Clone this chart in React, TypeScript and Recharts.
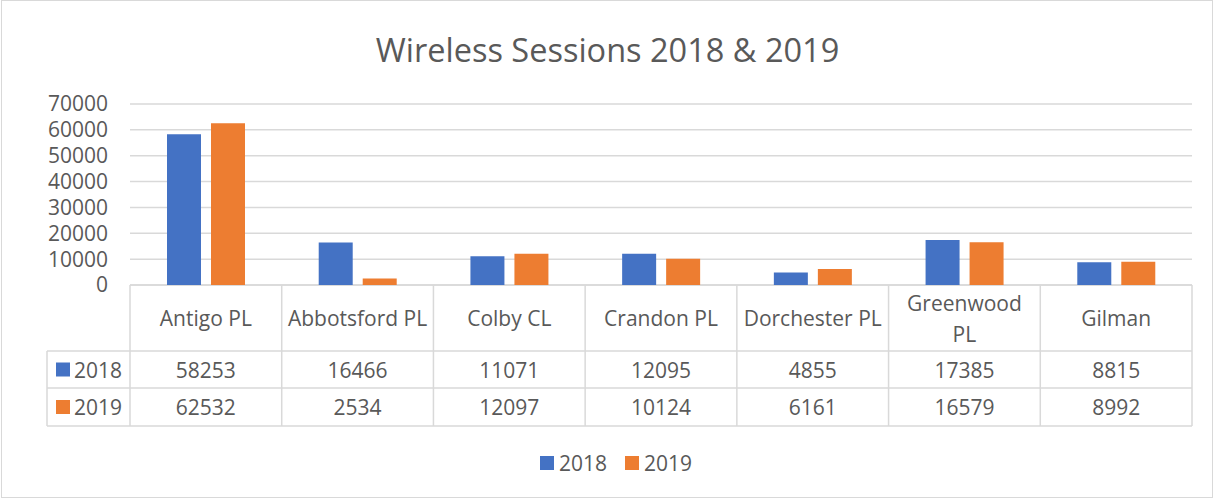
import React from 'react';
import { BarChart, Bar, XAxis, YAxis, CartesianGrid, Customized } from 'recharts';

const categories = ['Antigo PL', 'Abbotsford PL', 'Colby CL', 'Crandon PL', 'Dorchester PL', 'Greenwood PL', 'Gilman'];
const sessions2018 = [58253, 16466, 11071, 12095, 4855, 17385, 8815];
const sessions2019 = [62532, 2534, 12097, 10124, 6161, 16579, 8992];
const yTicks = [0, 10000, 20000, 30000, 40000, 50000, 60000, 70000];
const seriesNames = ['2018', '2019'];
const seriesColors = ['#4472C4', '#ED7D31'];

const data = categories.map((name, i) => ({ name, s2018: sessions2018[i], s2019: sessions2019[i] }));

const W = 1215;
const H = 500;
const PLOT_LEFT = 130;
const PLOT_RIGHT = 1192;
const PLOT_TOP = 104;
const TABLE_TOP = 285;
const ROW1 = 351;
const ROW2 = 388;
const ROW3 = 426;
const TABLE_LEFT = 47;
const BAND = (PLOT_RIGHT - PLOT_LEFT) / categories.length;
const LINE = '#d9d9d9';
const TEXT = '#595959';
const FONT = '"Open Sans", "Noto Sans", sans-serif';
const FS = 21;

let ctx: CanvasRenderingContext2D | null = null;
function measure(t: string): number {
  if (!ctx) {
    const c = document.createElement('canvas');
    ctx = c.getContext('2d');
  }
  if (!ctx) return t.length * 11;
  ctx.font = `${FS}px ${FONT}`;
  return ctx.measureText(t).width;
}

function wrap(t: string): string[] {
  if (measure(t) <= BAND - 11) return [t];
  const idx = t.lastIndexOf(' ');
  if (idx < 0) return [t];
  return [t.slice(0, idx), t.slice(idx + 1)];
}

const TableTick = (props: any) => {
  const { x, payload, index } = props;
  const left = x - BAND / 2;
  const right = x + BAND / 2;
  const lines = wrap(String(payload.value));
  const headerMid = (TABLE_TOP + ROW1) / 2;
  const lh = 31;
  return (
    <g>
      {index === 0 && <line x1={left} x2={left} y1={TABLE_TOP} y2={ROW3} stroke={LINE} strokeWidth={1.5} />}
      <line x1={right} x2={right} y1={TABLE_TOP} y2={ROW3} stroke={LINE} strokeWidth={1.5} />
      {lines.map((l, i) => (
        <text key={i} x={x} y={headerMid + (i - (lines.length - 1) / 2) * lh} textAnchor="middle" dominantBaseline="central" fill={TEXT} fontSize={FS} fontFamily={FONT}>{l}</text>
      ))}
      <text x={x} y={(ROW1 + ROW2) / 2} textAnchor="middle" dominantBaseline="central" fill={TEXT} fontSize={FS} fontFamily={FONT}>{sessions2018[index]}</text>
      <text x={x} y={(ROW2 + ROW3) / 2} textAnchor="middle" dominantBaseline="central" fill={TEXT} fontSize={FS} fontFamily={FONT}>{sessions2019[index]}</text>
    </g>
  );
};

const TableFrame = () => {
  const rows = [ROW1, ROW2];
  return (
    <g>
      <line x1={PLOT_LEFT} x2={PLOT_RIGHT} y1={TABLE_TOP} y2={TABLE_TOP} stroke={LINE} strokeWidth={1.5} />
      <line x1={TABLE_LEFT} x2={PLOT_RIGHT} y1={ROW1} y2={ROW1} stroke={LINE} strokeWidth={1.5} />
      <line x1={TABLE_LEFT} x2={PLOT_RIGHT} y1={ROW2} y2={ROW2} stroke={LINE} strokeWidth={1.5} />
      <line x1={TABLE_LEFT} x2={PLOT_RIGHT} y1={ROW3} y2={ROW3} stroke={LINE} strokeWidth={1.5} />
      <line x1={TABLE_LEFT} x2={TABLE_LEFT} y1={ROW1} y2={ROW3} stroke={LINE} strokeWidth={1.5} />
      {rows.map((r, i) => {
        const next = i === 0 ? ROW2 : ROW3;
        const mid = (r + next) / 2;
        return (
          <g key={i}>
            <rect x={TABLE_LEFT + 9} y={mid - 7} width={14} height={14} fill={seriesColors[i]} />
            <text x={TABLE_LEFT + 27} y={mid} dominantBaseline="central" fill={TEXT} fontSize={FS} fontFamily={FONT}>{seriesNames[i]}</text>
          </g>
        );
      })}
    </g>
  );
};

const LegendBlock = () => {
  const y = 463;
  return (
    <g>
      <rect x={540} y={y - 7} width={14} height={14} fill={seriesColors[0]} />
      <text x={559} y={y} dominantBaseline="central" fill={TEXT} fontSize={FS} fontFamily={FONT}>{seriesNames[0]}</text>
      <rect x={625} y={y - 7} width={14} height={14} fill={seriesColors[1]} />
      <text x={644} y={y} dominantBaseline="central" fill={TEXT} fontSize={FS} fontFamily={FONT}>{seriesNames[1]}</text>
    </g>
  );
};

export default function App() {
  return (
    <div style={{ position: 'absolute', left: 0, top: 0, width: W, height: H, background: '#fff' }}>
      <div style={{ position: 'absolute', left: 1, top: 0, width: W - 3, height: H - 2, border: '1px solid #d9d9d9', boxSizing: 'border-box' }} />
      <div style={{ position: 'absolute', left: 0, top: 28, width: W, textAlign: 'center', fontFamily: FONT, fontSize: 32.5, lineHeight: '44px', color: TEXT }}>
        Wireless Sessions 2018 &amp; 2019
      </div>
      <div style={{ position: 'absolute', left: 0, top: 0 }}>
        <BarChart
          width={W}
          height={H}
          data={data}
          margin={{ top: PLOT_TOP, right: W - PLOT_RIGHT, bottom: 0, left: 0 }}
          barSize={34}
          barGap={10}
        >
          <CartesianGrid horizontal vertical={false} stroke={LINE} strokeWidth={1.5} />
          <YAxis
            width={PLOT_LEFT}
            domain={[0, 70000]}
            ticks={yTicks}
            axisLine={false}
            tickLine={false}
            tickSize={0}
            tickMargin={22}
            tick={{ fill: TEXT, fontSize: FS, fontFamily: FONT }}
            interval={0}
          />
          <XAxis
            dataKey="name"
            height={H - TABLE_TOP}
            axisLine={false}
            tickLine={false}
            interval={0}
            tick={<TableTick />}
          />
          <Bar dataKey="s2018" fill={seriesColors[0]} isAnimationActive={false} />
          <Bar dataKey="s2019" fill={seriesColors[1]} isAnimationActive={false} />
          <Customized component={<TableFrame />} />
          <Customized component={<LegendBlock />} />
        </BarChart>
      </div>
    </div>
  );
}
